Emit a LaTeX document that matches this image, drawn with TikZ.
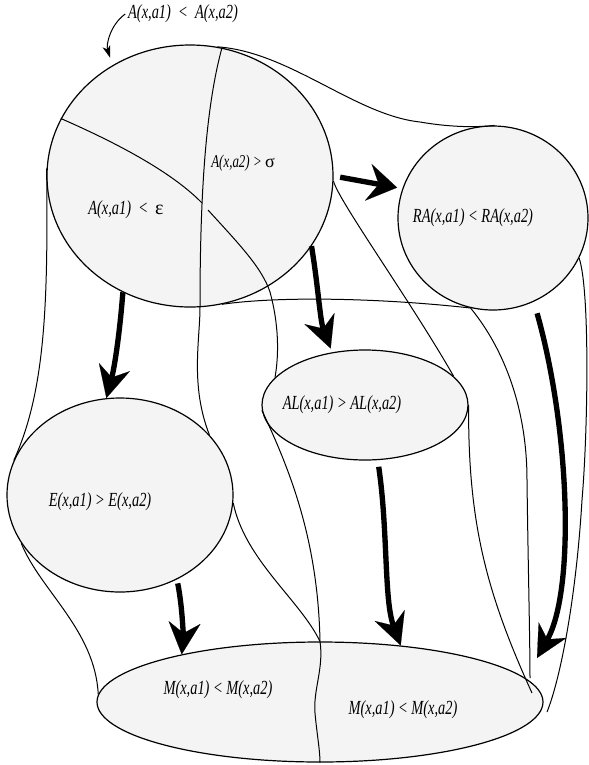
\documentclass[tikz,border=0pt]{standalone}
\usepackage{fontspec}
\setmainfont{Liberation Serif}
\newfontfamily\lblfont{Liberation Serif}[FakeStretch=0.72]
\usetikzlibrary{shapes.geometric,arrows.meta}
\definecolor{cfill}{HTML}{F4F4F4}
\begin{document}
\begin{tikzpicture}[x=0.75pt,y=-0.75pt,
  region/.style={ellipse,draw,fill=cfill,line width=0.9pt,inner sep=0pt},
  lbl/.style={font={\lblfont\itshape\fontsize{15}{17}\selectfont},inner sep=2pt},
  lblsmall/.style={font={\lblfont\itshape\fontsize{13.5}{15}\selectfont},inner sep=2pt},
  thinline/.style={line width=0.75pt},
  bigarrow/.style={line width=4pt,-{Stealth[length=24pt,width=24pt,inset=8pt,line width=0.1pt]}},
  widearrow/.style={line width=4pt,-{Stealth[length=22pt,width=28pt,inset=8pt,line width=0.1pt]}},
  smallarrow/.style={line width=0.75pt,-{Stealth[length=9pt,width=6pt,inset=2.5pt]}}]
\useasboundingbox (0,0) rectangle (589,765);

% regions
\node[region,minimum width=214.5pt,minimum height=196.5pt] (A) at (190,176) {};
\node[region,minimum width=142.5pt,minimum height=138pt] (RA) at (493,218) {};
\node[region,minimum width=154.5pt,minimum height=82.5pt] (AL) at (365,405) {};
\node[region,minimum width=169.5pt,minimum height=145.5pt] (E) at (120,495) {};
\node[region,minimum width=334.5pt,minimum height=90pt] (M) at (320,702) {};

% free ends
\coordinate (a5) at (208,210);
\coordinate (a8) at (202,203);
\coordinate (m11) at (532,693);
\coordinate (m13) at (530,678);
\coordinate (m14) at (547,712);
\coordinate (t4) at (537,658);

% thin connecting lines
\draw[thinline] (A.177) .. controls (48,300) and (46,390) .. (E.162);
\draw[thinline] (E.-154) .. controls (40,590) and (95,630) .. (M.178);
\draw[thinline] (A.76) .. controls (205,110) and (200,200) .. (200,307)
   .. controls (200,340) and (190,385) .. (E.34);
\draw[thinline] (E.-4) .. controls (245,560) and (300,600) .. (M.90);
\draw[thinline] (a5) .. controls (240,245) and (262,268) .. (270,292)
   .. controls (279,325) and (279,355) .. (AL.163);
\draw[thinline] (AL.-177) .. controls (290,470) and (318,540) .. (M.90);
\draw[thinline] (M.90) .. controls (324,668) and (313,690) .. (315,713)
   .. controls (317,735) and (320,750) .. (M.-90);
\draw[thinline] (A.156.5) .. controls (110,140) and (170,170) .. (a8);
\draw[thinline] (A.78) .. controls (290,52) and (355,115) .. (420,122)
   .. controls (455,128) and (480,127) .. (RA.89);
\draw[thinline] (A.-2) .. controls (338,200) and (410,300) .. (AL.18);
\draw[thinline] (AL.0) .. controls (468,520) and (485,590) .. (m11);
\draw[thinline] (A.-76) .. controls (280,296) and (380,298) .. (RA.-104.5);
\draw[thinline] (RA.-104.5) .. controls (505,350) and (527,410) .. (527,480)
   .. controls (528,560) and (530,640) .. (m13);
\draw[thinline] (RA.-25) .. controls (590,290) and (588,430) .. (582,500)
   .. controls (576,600) and (560,680) .. (m14);

% thick arrows
\draw[widearrow,shorten <=5pt,shorten >=4pt] (A.0) -- (RA.162);
\draw[bigarrow,shorten >=3pt] (A.-30) .. controls (318,285) and (320,320) .. (AL.122);
\draw[bigarrow] (A.-120) .. controls (120,330) and (115,365) .. (E.98);
\draw[bigarrow,shorten <=9pt] (RA.-64) .. controls (570,430) and (575,590) .. (t4);
\draw[bigarrow,shorten <=5pt] (AL.-77) .. controls (388,530) and (384,600) .. (M.35.7);
\draw[bigarrow,shorten <=3pt] (E.-56) .. controls (183,610) and (183,640) .. (M.161);

% labels
\node[lbl] (tl) at (183,14) {A(x,a1)\ \ <\ \ A(x,a2)};
\draw[smallarrow,shorten >=6pt] (tl.west) .. controls (110,25) and (106,45) .. (A.125);
\node[lblsmall] (tA2) at (243,163) {A(x,a2) > {\rmfamily\upshape σ}};
\node[lbl] (tA1) at (126,210) {A(x,a1)\ \ <\ \ {\rmfamily\upshape ε}};
\node[lbl] (tRA) at (473,218) {RA(x,a1) < RA(x,a2)};
\node[lbl] (tAL) at (342,405) {AL(x,a1) > AL(x,a2)};
\node[lbl] (tE) at (100,502) {E(x,a1) > E(x,a2)};
\node[lbl] (tM1) at (218,690) {M(x,a1) < M(x,a2)};
\node[lbl] (tM2) at (403,710) {M(x,a1) < M(x,a2)};
\end{tikzpicture}
\end{document}
